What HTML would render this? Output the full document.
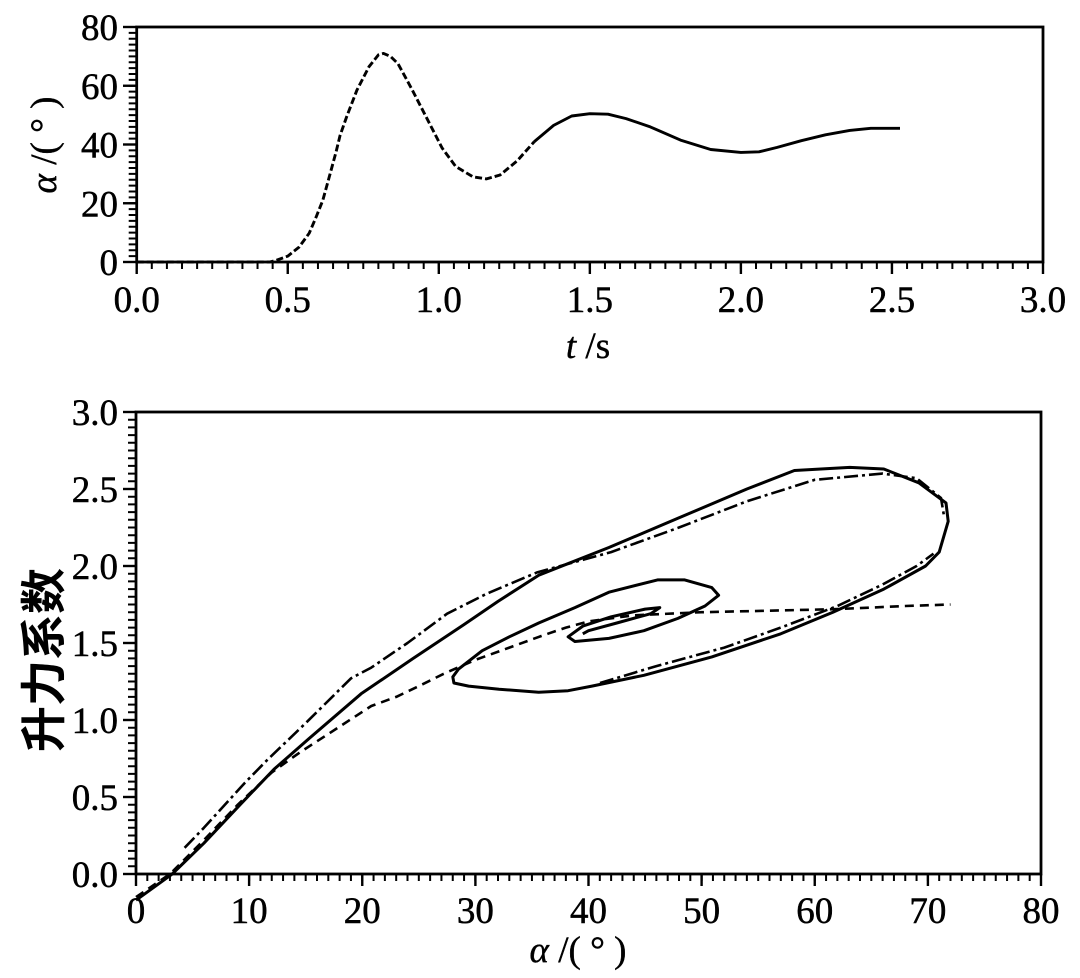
<!DOCTYPE html>
<html>
<head>
<meta charset="utf-8">
<style>
  html, body { margin: 0; padding: 0; background: #ffffff; }
  body { width: 1080px; height: 978px; overflow: hidden; }
  svg { display: block; }
  .tl { font-family: "Liberation Serif", serif; font-size: 37px; fill: #000; stroke: #000; stroke-width: 0.5; }
  .ax { font-family: "Liberation Serif", serif; font-size: 37px; fill: #000; stroke: #000; stroke-width: 0.4; }
</style>
</head>
<body>
<svg width="1080" height="978" viewBox="0 0 1080 978" xmlns="http://www.w3.org/2000/svg">
  <rect x="0" y="0" width="1080" height="978" fill="#fff"/>

  <!-- ================= TOP PLOT ================= -->
  <rect x="136.7" y="27" width="906.3" height="235" fill="none" stroke="#000" stroke-width="2.8"/>
  <line x1="132.7" y1="263" x2="132.7" y2="26" stroke="#000" stroke-width="8" stroke-dasharray="2 3.875"/>
  <g stroke="#000" stroke-width="2.4">
    <line x1="123" y1="262" x2="136.7" y2="262"/>
    <line x1="123" y1="203.25" x2="136.7" y2="203.25"/>
    <line x1="123" y1="144.5" x2="136.7" y2="144.5"/>
    <line x1="123" y1="85.75" x2="136.7" y2="85.75"/>
    <line x1="123" y1="27" x2="136.7" y2="27"/>
  </g>
  <line x1="135.7" y1="265.5" x2="1044" y2="265.5" stroke="#000" stroke-width="7" stroke-dasharray="2 13.105"/>
  <g stroke="#000" stroke-width="2.4">
    <line x1="136.7" y1="262" x2="136.7" y2="274"/>
    <line x1="287.75" y1="262" x2="287.75" y2="274"/>
    <line x1="438.8" y1="262" x2="438.8" y2="274"/>
    <line x1="589.85" y1="262" x2="589.85" y2="274"/>
    <line x1="740.9" y1="262" x2="740.9" y2="274"/>
    <line x1="891.95" y1="262" x2="891.95" y2="274"/>
    <line x1="1043" y1="262" x2="1043" y2="274"/>
  </g>
  <g class="tl" text-anchor="end">
    <text x="118" y="40">80</text>
    <text x="118" y="98.75">60</text>
    <text x="118" y="157.5">40</text>
    <text x="118" y="216.25">20</text>
    <text x="118" y="275">0</text>
  </g>
  <g class="tl" text-anchor="middle">
    <text x="136.7" y="312">0.0</text>
    <text x="287.75" y="312">0.5</text>
    <text x="438.8" y="312">1.0</text>
    <text x="589.85" y="312">1.5</text>
    <text x="740.9" y="312">2.0</text>
    <text x="891.95" y="312">2.5</text>
    <text x="1043" y="312">3.0</text>
  </g>
  <text class="ax" x="588" y="358" text-anchor="middle"><tspan font-style="italic">t</tspan> /s</text>
  <text class="ax" transform="translate(56,145) rotate(-90)" text-anchor="middle"><tspan font-style="italic">α</tspan> /( ° )</text>

  <polyline fill="none" stroke="#000" stroke-width="2.9" stroke-linejoin="round" stroke-dasharray="7 3"
    points="136.7,262 269.6,262 275.7,260.5 287.8,256.1 298.9,247.3 309.2,233.2 316.1,217.1 322.8,200.3 329.7,175.3 336.1,151.8 340.0,135.7 346.7,116.6 356.9,90.2 369.0,66.7 378.4,54.9 383.5,53.4 390.5,56.4 398.0,63.7 411.6,88.7 425.2,115.1 442.1,148.0 455.7,166.5 472.9,176.8 486.5,178.9 500.1,175.0 517.3,160.7 534.3,141.6"/>
  <polyline fill="none" stroke="#000" stroke-width="2.9" stroke-linejoin="round"
    points="534.3,141.6 553.6,125.4 571.7,116.0 589.9,113.7 608.0,114.2 626.1,118.6 650.3,126.9 680.5,140.1 710.7,149.5 740.9,152.4 759.0,151.8 777.2,147.4 801.3,140.7 825.5,134.8 849.7,130.4 870.8,128.3 900.0,128.3"/>

  <!-- ================= BOTTOM PLOT ================= -->
  <rect x="136" y="412" width="905" height="462" fill="none" stroke="#000" stroke-width="2.8"/>
  <line x1="132" y1="875" x2="132" y2="411" stroke="#000" stroke-width="8" stroke-dasharray="2 5.7"/>
  <g stroke="#000" stroke-width="2.4">
    <line x1="123" y1="874" x2="136" y2="874"/>
    <line x1="123" y1="797" x2="136" y2="797"/>
    <line x1="123" y1="720" x2="136" y2="720"/>
    <line x1="123" y1="643" x2="136" y2="643"/>
    <line x1="123" y1="566" x2="136" y2="566"/>
    <line x1="123" y1="489" x2="136" y2="489"/>
    <line x1="123" y1="412" x2="136" y2="412"/>
  </g>
  <line x1="135" y1="877.5" x2="1042" y2="877.5" stroke="#000" stroke-width="7" stroke-dasharray="2 9.3125"/>
  <g stroke="#000" stroke-width="2.4">
    <line x1="136" y1="874" x2="136" y2="886"/>
    <line x1="249.1" y1="874" x2="249.1" y2="886"/>
    <line x1="362.25" y1="874" x2="362.25" y2="886"/>
    <line x1="475.4" y1="874" x2="475.4" y2="886"/>
    <line x1="588.5" y1="874" x2="588.5" y2="886"/>
    <line x1="701.6" y1="874" x2="701.6" y2="886"/>
    <line x1="814.75" y1="874" x2="814.75" y2="886"/>
    <line x1="927.9" y1="874" x2="927.9" y2="886"/>
    <line x1="1041" y1="874" x2="1041" y2="886"/>
  </g>
  <g class="tl" text-anchor="end">
    <text x="118" y="425">3.0</text>
    <text x="118" y="502">2.5</text>
    <text x="118" y="579">2.0</text>
    <text x="118" y="656">1.5</text>
    <text x="118" y="733">1.0</text>
    <text x="118" y="810">0.5</text>
    <text x="118" y="887">0.0</text>
  </g>
  <g class="tl" text-anchor="middle">
    <text x="136" y="923">0</text>
    <text x="249.1" y="923">10</text>
    <text x="362.25" y="923">20</text>
    <text x="475.4" y="923">30</text>
    <text x="588.5" y="923">40</text>
    <text x="701.6" y="923">50</text>
    <text x="814.75" y="923">60</text>
    <text x="927.9" y="923">70</text>
    <text x="1041" y="923">80</text>
  </g>
  <text class="ax" x="578" y="962" text-anchor="middle"><tspan font-style="italic">α</tspan> /( ° )</text>
  <text transform="translate(60,660) rotate(-90)" text-anchor="middle" style="font-family:'Liberation Sans','Noto Sans CJK SC',sans-serif;font-size:46px;font-weight:bold;">升力系数</text>

  <!-- main solid curve -->
  <polyline fill="none" stroke="#000" stroke-width="3" stroke-linejoin="round"
    points="136,900.2 172.2,874 203.9,843.2 240.1,804.7 274.0,769.3 309.1,738.5 361.1,693.8 413.2,658.4 464.1,624.5 498.0,601.4 538.7,575.2 608.9,547.5 677.9,518.3 746.9,489.0 794.4,470.5 849.8,467.4 883.8,469.0 918.8,482.8 946.0,502.9 948.2,521.3 939.2,552.1 925.6,566.0 883.8,589.1 832.9,612.2 780.8,633.8 711.8,656.9 643.9,675.3 591.9,686.1 568.1,690.7 538.7,692.3 499.1,689.2 468.6,686.1 453.9,683.0 452.8,676.9 458.4,669.2 482.2,650.7 509.3,636.8 538.7,623.0 574.9,607.6 608.9,592.2 657.5,579.9 684.7,579.9 711.8,587.6 718.6,595.3 705.0,606.0 677.9,618.4 643.9,630.7 608.9,638.4 574.9,641.5 568.1,636.8 582.8,626.1 611.1,616.8 645.1,609.1 659.8,607.6 650.7,613.7 616.8,623.0 588.5,630.7 582.8,633.8"/>

  <polyline fill="none" stroke="#000" stroke-width="2.6" stroke-linejoin="round" stroke-dasharray="14 4 3 4"
    points="184.6,847.8 203.9,827.8 244.6,783.1 267.2,760.0 305.7,723.1 350.9,678.4 371.3,667.6 407.5,643.0 447.1,613.7 486.7,593.7 537.6,572.2 611.1,552.1 679.0,527.5 746.9,501.3 814.8,479.8 882.6,473.6 916.6,478.2 941,498 944,516"/>

  <polyline fill="none" stroke="#000" stroke-width="2.6" stroke-linejoin="round" stroke-dasharray="9 6"
    points="136,897.1 170,874 203.9,840.1 237.8,804.7 271.8,772.4 300.0,752.3 326.1,735.4 371.3,706 396.2,696.9 418.8,686.1 443.7,673.8 475.4,659.9 509.3,647.6 543.3,635.3 565.9,627.6 588.5,621.4 633.8,615.3 701.6,612.2 769.5,610.7 837.4,609.1 905.3,606.0 950.5,604.5"/>

  <polyline fill="none" stroke="#000" stroke-width="2.6" stroke-linejoin="round" stroke-dasharray="14 4 3 4"
    points="600,683 656.4,666.1 724.3,647.6 780.8,627.6 837.4,606.0 882.6,584.5 916.6,566 933.5,553.7"/>
</svg>
</body>
</html>
